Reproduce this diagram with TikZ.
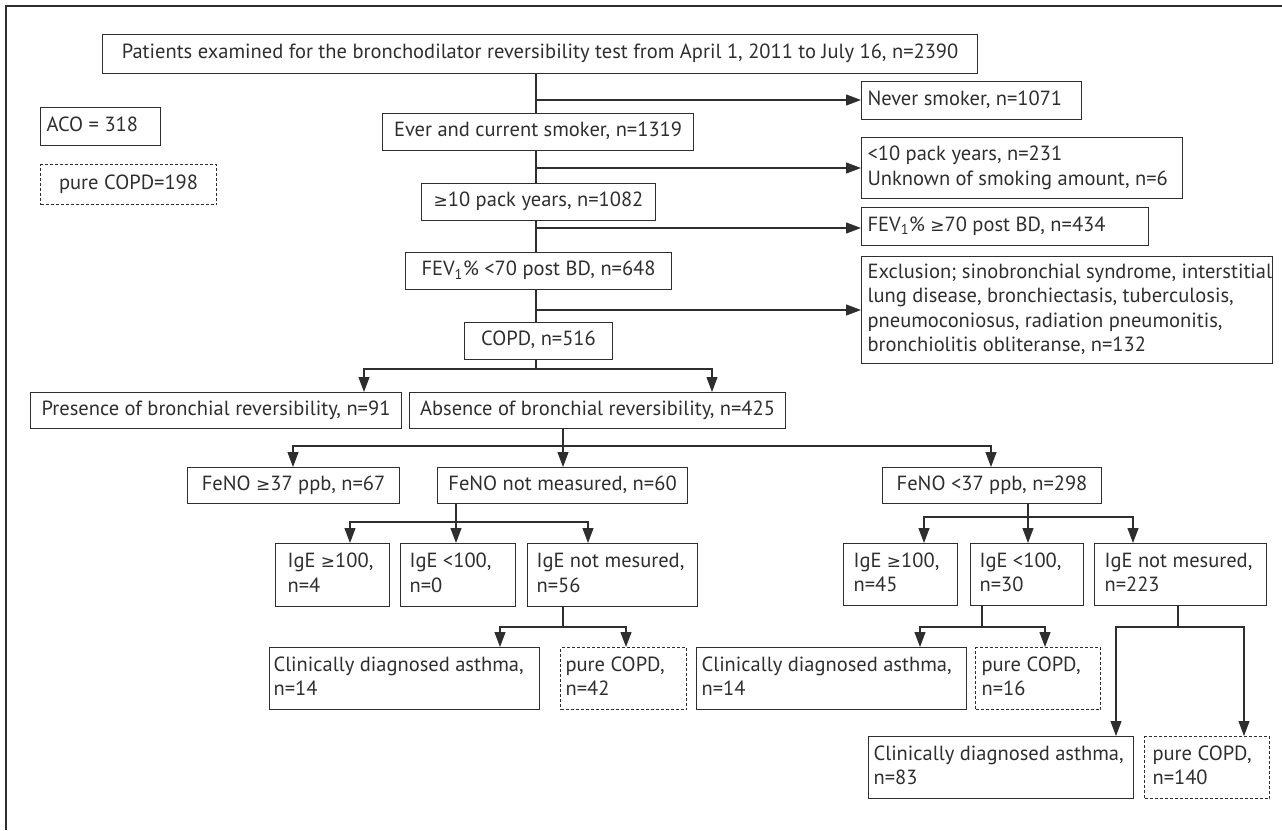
\documentclass[tikz,border=0pt]{standalone}
\usepackage{fontspec}
\setmainfont{PT Sans}
\newfontfamily\symf{DejaVu Sans}
\newcommand\GEQ{{\symf\fontsize{17}{20}\selectfont ≥}}
\usetikzlibrary{arrows.meta}
\definecolor{ink}{HTML}{2E2E2E}
% #1 style, #2 name, #3 x1, #4 y1, #5 x2, #6 y2, #7 left pad, #8 l/c, #9 text
\newcommand\mybox[9]{%
  \pgfmathsetmacro\bw{#5-#3}%
  \pgfmathsetmacro\bh{#6-#4}%
  \pgfmathsetmacro\tw{#5-#3-2*#7}%
  \node[box,#1,anchor=north west,inner xsep=#7pt,minimum width=\bw pt,
        minimum height=\bh pt] (#2) at (#3,#4)
        {\makebox[\tw pt][#8]{\begin{tabular}{@{}#8@{}}#9\end{tabular}}};}
\begin{document}
\begin{tikzpicture}[x=1pt,y=-1pt,
  box/.style={draw=ink,line width=1.1pt,text=ink,inner ysep=0pt,
    font=\fontsize{20.5}{24.5}\selectfont},
  dsh/.style={dash pattern=on 3pt off 2pt},
  ln/.style={draw=ink,line width=1.1pt},
  arr/.style={ln,-{Triangle[length=15pt,width=11pt]}}]
\useasboundingbox (0,0) rectangle (1282,830);
\draw[ln] (1282,6) -- (6,6) -- (6,830);
% boxes
\mybox{}{top}{102}{34}{977}{73}{4}{c}{Patients examined for the bronchodilator reversibility test from April 1, 2011 to July 16, n=2390}
\mybox{}{never}{861}{81}{1081}{119}{6}{l}{Never smoker, n=1071}
\mybox{}{ever}{382}{113}{693}{150}{4}{c}{Ever and current smoker, n=1319}
\mybox{}{lt10}{861}{137}{1182}{198}{6}{l}{<10 pack years, n=231\\Unknown of smoking amount, n=6}
\mybox{}{ge10}{421}{183}{655}{220}{4}{c}{\GEQ10 pack years, n=1082}
\mybox{}{fevge}{861}{207}{1148}{245}{6}{l}{FEV\textsubscript{1}\% \GEQ70 post BD, n=434}
\mybox{}{fevlt}{405}{252}{671}{289}{4}{c}{FEV\textsubscript{1}\% <70 post BD, n=648}
\mybox{}{excl}{861}{256}{1272}{363}{6}{l}{Exclusion; sinobronchial syndrome, interstitial\\lung disease, bronchiectasis, tuberculosis,\\pneumoconiosus, radiation pneumonitis,\\bronchiolitis obliteranse, n=132}
\mybox{}{copd}{464}{322}{612}{359}{4}{c}{COPD, n=516}
\mybox{}{pres}{30}{392}{401}{428}{4}{c}{Presence of bronchial reversibility, n=91}
\mybox{}{abs}{409}{392}{785}{428}{4}{c}{Absence of bronchial reversibility, n=425}
\mybox{}{fenoge}{187}{467}{399}{503}{4}{c}{FeNO \GEQ37 ppb, n=67}
\mybox{}{fenonm}{437}{467}{687}{503}{4}{c}{FeNO not measured, n=60}
\mybox{}{fenolt}{882}{467}{1101}{503}{4}{c}{FeNO <37 ppb, n=298}
\mybox{}{igeAa}{275}{543}{389}{606}{12}{l}{IgE \GEQ100,\\n=4}
\mybox{}{igeAb}{400}{543}{515}{606}{9}{l}{IgE <100,\\n=0}
\mybox{}{igeAc}{527}{543}{697}{606}{9}{l}{IgE not mesured,\\n=56}
\mybox{}{clinA}{269}{647}{539}{709}{4}{l}{Clinically diagnosed asthma,\\n=14}
\mybox{dsh}{pureA}{560}{647}{686}{709}{5}{l}{pure COPD,\\n=42}
\mybox{}{igeBa}{843}{543}{957}{605}{10}{l}{IgE \GEQ100,\\n=45}
\mybox{}{igeBb}{970}{543}{1083}{605}{9}{l}{IgE <100,\\n=30}
\mybox{}{igeBc}{1094}{543}{1266}{605}{10}{l}{IgE not mesured,\\n=223}
\mybox{}{clinB}{696}{647}{966}{709}{5}{l}{Clinically diagnosed asthma,\\n=14}
\mybox{dsh}{pureB}{975}{647}{1100}{709}{6}{l}{pure COPD,\\n=16}
\mybox{}{clinC}{868}{736}{1133}{798}{5}{l}{Clinically diagnosed asthma,\\n=83}
\mybox{dsh}{pureC}{1144}{736}{1269}{798}{8}{l}{pure COPD,\\n=140}
\mybox{}{aco}{40}{107}{160}{145}{6}{l}{ACO = 318}
\mybox{dsh}{pureT}{40}{164}{216}{204}{4}{c}{pure COPD=198}
% main spine
\coordinate (sp) at (536,0);
\draw[ln] (top.south -| sp) -- (ever.north -| sp);
\draw[ln] (ever.south -| sp) -- (ge10.north -| sp);
\draw[ln] (ge10.south -| sp) -- (fevlt.north -| sp);
\draw[ln] (fevlt.south -| sp) -- (copd.north -| sp);
\draw[arr] (536,100) -- (never.west |- 0,100);
\draw[arr] (536,168) -- (lt10.west |- 0,168);
\draw[arr] (536,228) -- (fevge.west |- 0,228);
\draw[arr] (536,310) -- (excl.west |- 0,310);
% COPD split
\coordinate (c0) at (536,369); \coordinate (c1) at (364,369); \coordinate (c2) at (712,369);
\draw[ln] (copd.south -| sp) -- (c0);
\draw[arr] (c0) -| (pres.north -| c1);
\draw[arr] (c0) -| (abs.north -| c2);
% absence split
\coordinate (a1) at (293,446); \coordinate (a2) at (563,446); \coordinate (a3) at (991,446);
\draw[arr] (abs.south -| a2) -- (fenonm.north -| a2);
\draw[arr] (a2) -| (fenoge.north -| a1);
\draw[arr] (a2) -| (fenolt.north -| a3);
% FeNO not measured split
\coordinate (b1) at (350,522); \coordinate (b2) at (456,522); \coordinate (b3) at (588,522);
\draw[arr] (fenonm.south -| b2) -- (igeAb.north -| b2);
\draw[arr] (b2) -| (igeAa.north -| b1);
\draw[arr] (b2) -| (igeAc.north -| b3);
% IgE not mesured (A) split
\coordinate (d0) at (563,627); \coordinate (d1) at (500,627); \coordinate (d2) at (626,627);
\draw[ln] (igeAc.south -| d0) -- (d0);
\draw[arr] (d0) -| (clinA.north -| d1);
\draw[arr] (d0) -| (pureA.north -| d2);
% FeNO <37 split
\coordinate (e1) at (924,517); \coordinate (e2) at (1028,517); \coordinate (e3) at (1133,517);
\draw[arr] (fenolt.south -| e2) -- (igeBb.north -| e2);
\draw[arr] (e2) -| (igeBa.north -| e1);
\draw[arr] (e2) -| (igeBc.north -| e3);
% IgE <100 (B) split
\coordinate (f0) at (982,627); \coordinate (f1) at (920,627); \coordinate (f2) at (1045,627);
\draw[ln] (igeBb.south -| f0) -- (f0);
\draw[arr] (f0) -| (clinB.north -| f1);
\draw[arr] (f0) -| (pureB.north -| f2);
% IgE not mesured (B) split
\coordinate (g0) at (1178,627); \coordinate (g1) at (1116,627); \coordinate (g2) at (1244,627);
\draw[ln] (igeBc.south -| g0) -- (g0);
\draw[arr] (g0) -| (clinC.north -| g1);
\draw[arr] (g0) -| (pureC.north -| g2);
\end{tikzpicture}
\end{document}
